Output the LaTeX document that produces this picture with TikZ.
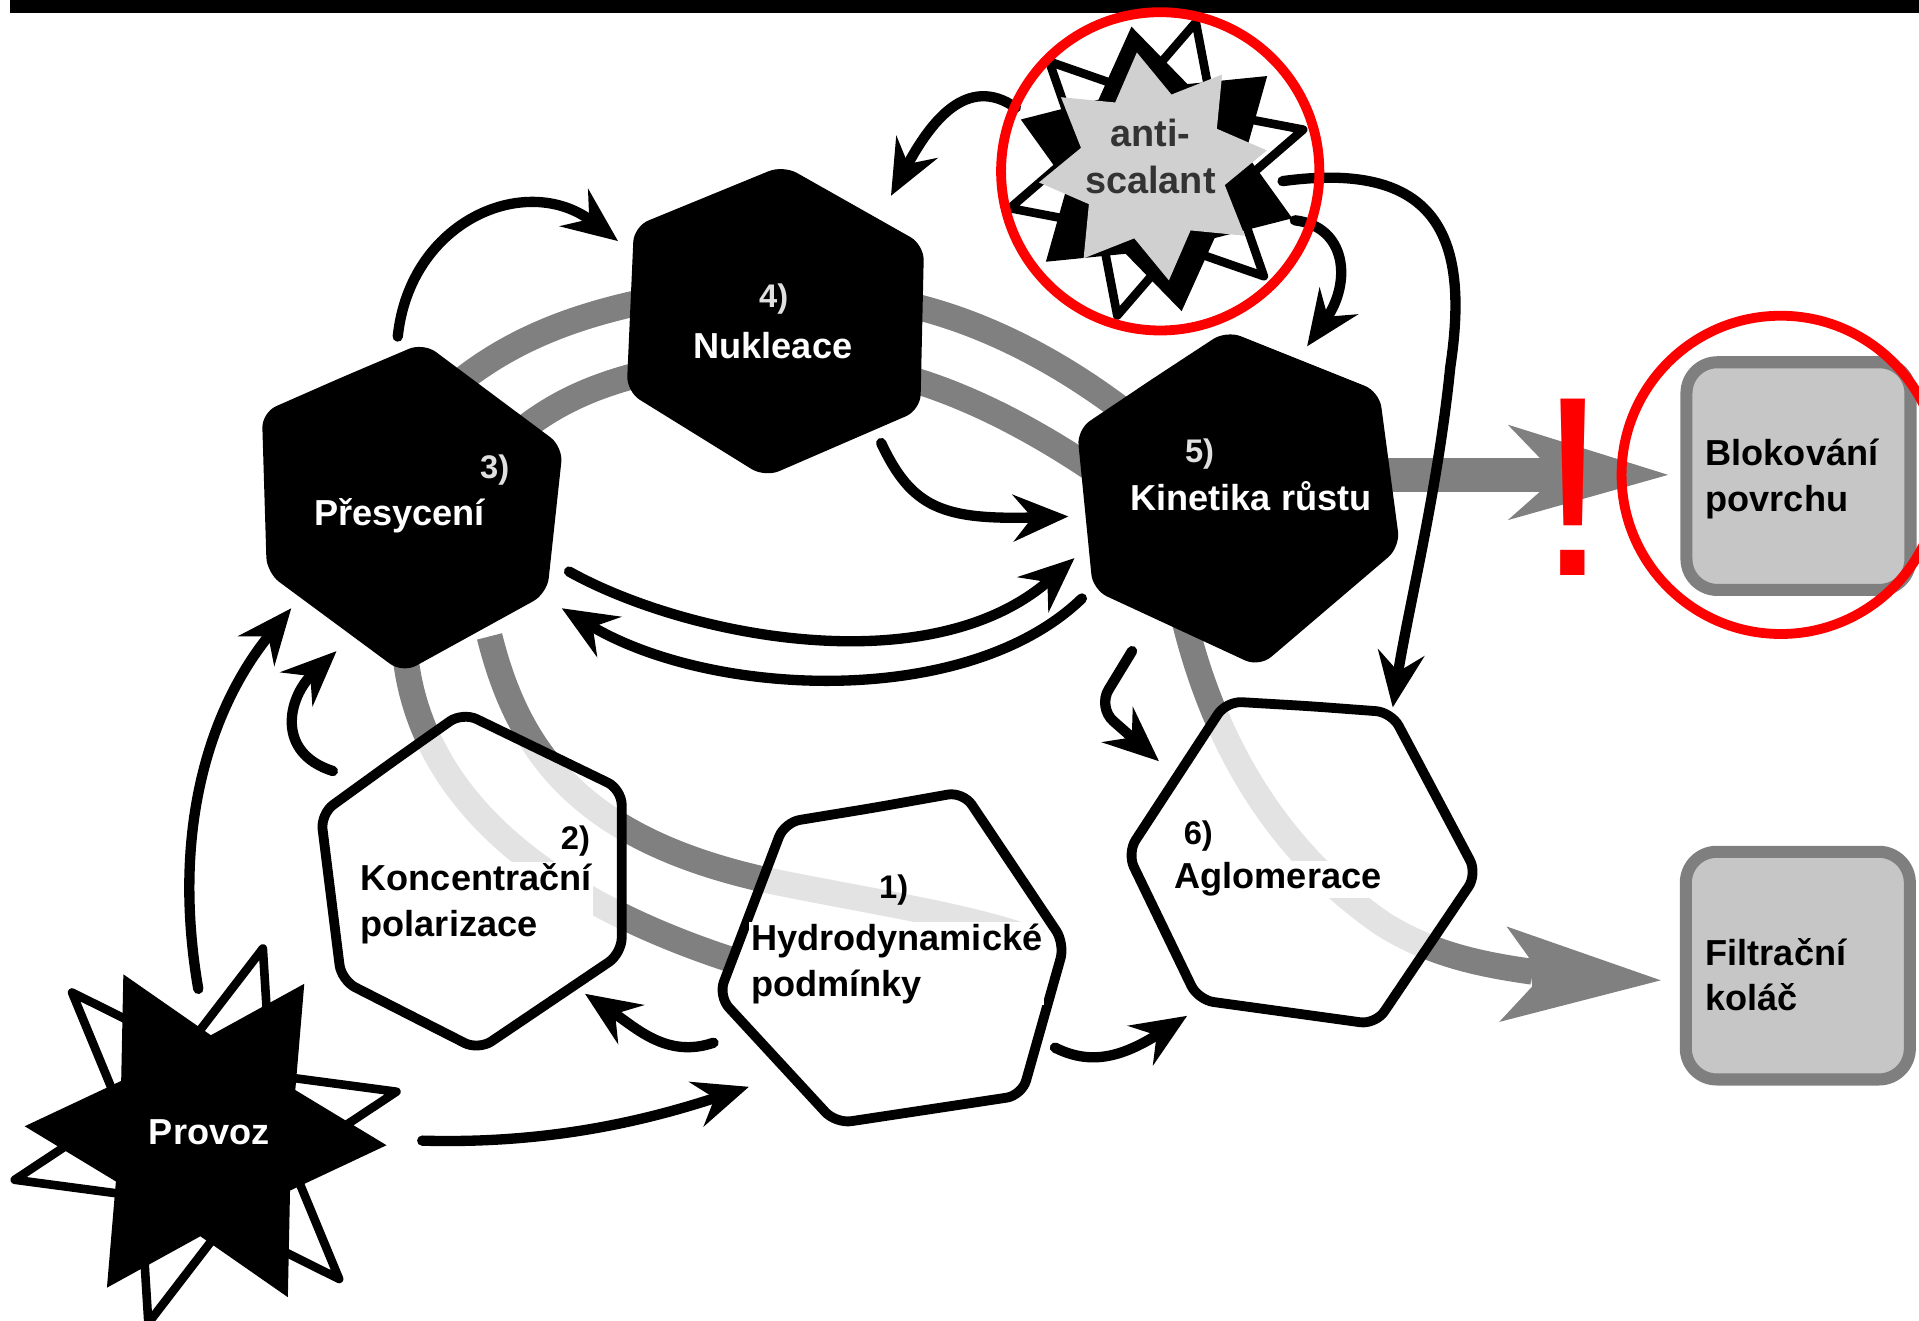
\documentclass[tikz,border=0pt]{standalone}
\usepackage{fontspec}
\setmainfont{Liberation Sans}
\usetikzlibrary{arrows.meta,shapes.geometric}
\definecolor{bandc}{HTML}{808080}
\definecolor{boxfill}{HTML}{C6C6C6}
\definecolor{boxline}{HTML}{7F7F7F}
\definecolor{agray}{HTML}{D0D0D0}
\definecolor{redc}{HTML}{FF0000}
\tikzset{
 lbl/.style={font=\fontsize{21}{26.5}\selectfont\bfseries, inner sep=1pt, anchor=base west, align=left},
 num/.style={font=\fontsize{19}{19}\selectfont\bfseries, inner sep=0pt, anchor=base west},
 conn/.style={line width=6pt, line cap=round, -{Stealth[length=32pt,width=27pt,inset=11pt]}},
 bandline/.style={draw=bandc, line width=15pt},
 blackhex/.style={fill=black, rounded corners=9pt},
 whitehex/.style={draw=black, line width=5.7pt, fill=white, fill opacity=0.78, draw opacity=1, rounded corners=9pt},
 resbox/.style={draw=boxline, line width=7pt, fill=boxfill, rounded corners=18pt, minimum width=4.575cm, minimum height=4.65cm, inner sep=0pt},
 redring/.style={circle, draw=redc, line width=5.7pt, minimum size=6.5cm, inner sep=0pt},
}
\begin{document}
\begin{tikzpicture}[x=0.025cm,y=-0.025cm]
\useasboundingbox (0,0) rectangle (1568,1078.6);
\fill[black] (8,0) rectangle (1568,11);

% ---------- grey bands (ring) ----------
\draw[bandline] (340,345) .. controls (400,280) and (470,255) .. (560,240);
\draw[bandline] (400,375) .. controls (440,335) and (480,312) .. (560,298);
\draw[bandline] (700,242) .. controls (780,250) and (870,290) .. (960,370);
\draw[bandline] (700,300) .. controls (770,310) and (850,350) .. (930,410);
\draw[bandline] (330,520) .. controls (335,640) and (430,730) .. (600,785);
\draw[bandline] (400,520) .. controls (425,620) and (480,690) .. (640,722) .. controls (720,738) and (800,750) .. (850,770);
\draw[bandline] (960,470) .. controls (985,610) and (1050,700) .. (1130,755) .. controls (1170,780) and (1210,788) .. (1252,794);
% big grey arrows
\draw[draw=bandc, line width=20pt] (1100,388) -- (1262,388);
\fill[bandc] (1363,388) -- (1232,347) -- (1258,374) -- (1258,402) -- (1232,425) -- cycle;
\fill[bandc] (1357,801) -- (1231,757) -- (1249,782) -- (1252,806) -- (1225,835) -- cycle;

% ---------- hexagons ----------
\fill[blackhex] (579,160) -- (640,135) -- (755,200) -- (752,335) -- (625,390) -- (512,320) -- (518,185) -- cycle;
\fill[blackhex] (280,308) -- (346,280) -- (460,365) -- (447,485) -- (329,550) -- (218,468) -- (214,337) -- cycle;
\fill[blackhex] (941,310) -- (1002,270) -- (1127,320) -- (1144,447) -- (1029,545) -- (893,482) -- (880,351) -- cycle;
\draw[whitehex] (320,623) -- (378,582) -- (508,645) -- (508,779) -- (391,858) -- (279,801) -- (262,665) -- cycle;
\draw[whitehex] (714,660) -- (787,647) -- (870,771) -- (835,895) -- (683,918) -- (587,814) -- (641,672) -- cycle;
\draw[whitehex] (1070,577) -- (1137,582) -- (1207,714) -- (1124,837) -- (979,817) -- (921,697) -- (1002,573) -- cycle;

% ---------- labels ----------
\node[num, text=white!88!black] (n3) at (392,391) {3)};
\node[lbl, text=white] (t3) at (255,429) {Přesycení};
\node[num, text=white!88!black] (n4) at (620,251) {4)};
\node[lbl, text=white] (t4) at (565,293) {Nukleace};
\node[num, text=white!88!black] (n5) at (968,378) {5)};
\node[lbl, text=white] (t5) at (922,417) {Kinetika růstu};
\node[num] (n2) at (458,694) {2)};
\node[lbl, fill=white] (t2) at (293,765) {Koncentrační\\polarizace};
\node[num] (n1) at (718,734) {1)};
\node[lbl, fill=white] (t1) at (612,814) {Hydrodynamické\\podmínky};
\node[num] (n6) at (967,690) {6)};
\node[lbl, fill=white] (t6) at (958,726) {Aglomerace};

% ---------- stars ----------
\node[star, star points=6, star point ratio=2.2, minimum size=8cm, shape border rotate=-17, draw=black, line width=5pt, line join=round, fill=white, inner sep=0pt] (provOut) at (168,928) {};
\node[star, star points=6, star point ratio=1.8, minimum size=7.4cm, shape border rotate=27, fill=black, inner sep=0pt] (provIn) at (168,928) {};
\node[lbl, text=white] (provoz) at (120,935) {Provoz};

\node[star, star points=6, star point ratio=1.9, minimum size=6.2cm, shape border rotate=-15, draw=black, line width=5pt, line join=round, fill=white, inner sep=0pt] (antiOut) at (945,138) {};
\node[star, star points=6, star point ratio=1.6, minimum size=5.9cm, shape border rotate=10, fill=black, inner sep=0pt] (antiIn) at (945,138) {};
\node[star, star points=8, star point ratio=1.55, minimum size=4.7cm, shape border rotate=8, fill=agray, inner sep=0pt] (antiCore) at (942,136) {};
\node[font=\fontsize{22}{27}\selectfont\bfseries, text=black!80, align=center, anchor=base, inner sep=0pt] (anti) at (940,158) {anti-\\scalant};

% ---------- connector end points ----------
\coordinate (c3top) at (325,275);  \coordinate (c4in) at (505,197);
\coordinate (cAl) at (830,88);     \coordinate (c4tr) at (728,160);
\coordinate (cAr) at (1058,180);   \coordinate (c5top) at (1068,283);
\coordinate (cAr2) at (1048,148);  \coordinate (c6top) at (1138,578);
\coordinate (c4bot) at (720,362);  \coordinate (c5l) at (873,422);
\coordinate (c3r) at (465,467);    \coordinate (c5l2) at (878,456);
\coordinate (c5l3) at (884,489);   \coordinate (c3r2) at (459,497);
\coordinate (c5bot) at (925,532);  \coordinate (c6l) at (947,622);
\coordinate (c1r) at (862,856);    \coordinate (c6bl) at (970,830);
\coordinate (c1l) at (583,852);    \coordinate (c2br) at (478,812);
\coordinate (cPr) at (345,932);    \coordinate (c1bl) at (612,888);
\coordinate (cPt) at (162,808);    \coordinate (c3bl) at (238,497);
\coordinate (c2tl) at (272,630);   \coordinate (c3b) at (275,532);

% ---------- black connectors ----------
\draw[conn] (c3top) .. controls (335,180) and (430,140) .. (c4in);
\draw[conn] (cAl) .. controls (790,60) and (760,100) .. (c4tr);
\draw[conn] (cAr) .. controls (1100,185) and (1105,230) .. (c5top);
\draw[conn] (cAr2) .. controls (1180,130) and (1200,200) .. (1185,300) .. controls (1175,400) and (1150,500) .. (c6top);
\draw[conn] (c4bot) .. controls (745,415) and (770,425) .. (c5l);
\draw[conn] (c3r) .. controls (560,520) and (760,560) .. (c5l2);
\draw[conn] (c5l3) .. controls (790,580) and (580,570) .. (c3r2);
\draw[conn, rounded corners=12pt] (c5bot) -- (897,578) -- (c6l);
\draw[conn] (c1r) .. controls (890,870) and (915,865) .. (c6bl);
\draw[conn] (c1l) .. controls (545,865) and (520,840) .. (c2br);
\draw[conn] (cPr) .. controls (450,935) and (530,915) .. (c1bl);
\draw[conn] (cPt) .. controls (140,680) and (170,580) .. (c3bl);
\draw[conn] (c2tl) .. controls (225,615) and (235,570) .. (c3b);

% ---------- result boxes ----------
\node[resbox] (blok) at (1469.5,389) {};
\node[lbl] (blokT) at (1392,418) {Blokování\\povrchu};
\node[resbox] (filt) at (1469,789) {};
\node[lbl] (filtT) at (1392,826) {Filtrační\\koláč};

% ---------- red marks ----------
\node[redring] (ringA) at (948,140) {};
\node[redring] (ringB) at (1455,388) {};
\node[text=redc, font=\fontsize{149}{149}\selectfont, anchor=base, inner sep=0pt] (excl) at (1285,470) {!};
\end{tikzpicture}
\end{document}
